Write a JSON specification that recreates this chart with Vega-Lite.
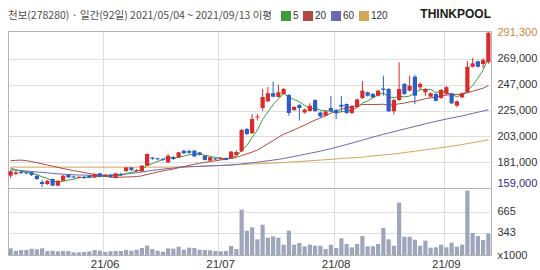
{
"$schema":"https://vega.github.io/schema/vega-lite/v6.json",
"background":"#ffffff",
"padding":{"left":7,"top":7,"right":0,"bottom":0},
"data":{"values":[
{"d":"2021-05-04","o":169500,"h":174400,"l":167500,"c":173200,"v":102,"m5":176000,"m20":182300,"m60":174500,"m120":176800},
{"d":"2021-05-06","o":170900,"h":173500,"l":170100,"c":172200,"v":66,"m5":174500,"m20":182600,"m60":174200,"m120":176800},
{"d":"2021-05-07","o":172900,"h":173500,"l":170900,"c":171800,"v":77,"m5":173500,"m20":182800,"m60":173900,"m120":176800},
{"d":"2021-05-10","o":172500,"h":173300,"l":170500,"c":171500,"v":77,"m5":172500,"m20":182300,"m60":173500,"m120":176800},
{"d":"2021-05-11","o":172400,"h":173100,"l":169200,"c":170100,"v":97,"m5":171800,"m20":181500,"m60":173100,"m120":176800},
{"d":"2021-05-12","o":169500,"h":170100,"l":165800,"c":166700,"v":87,"m5":170500,"m20":180600,"m60":172700,"m120":176800},
{"d":"2021-05-13","o":164100,"h":165800,"l":159900,"c":162400,"v":102,"m5":168500,"m20":179600,"m60":172300,"m120":176800},
{"d":"2021-05-14","o":162400,"h":165800,"l":161600,"c":165200,"v":61,"m5":167200,"m20":178600,"m60":171900,"m120":176800},
{"d":"2021-05-17","o":166700,"h":167100,"l":160700,"c":161000,"v":66,"m5":165100,"m20":177600,"m60":171500,"m120":176800},
{"d":"2021-05-18","o":161000,"h":165800,"l":160700,"c":165200,"v":56,"m5":164100,"m20":176600,"m60":171100,"m120":176800},
{"d":"2021-05-20","o":165200,"h":170100,"l":165000,"c":169500,"v":61,"m5":164700,"m20":175600,"m60":170800,"m120":176800},
{"d":"2021-05-21","o":170300,"h":170900,"l":167500,"c":168100,"v":61,"m5":165800,"m20":174700,"m60":170500,"m120":176800},
{"d":"2021-05-24","o":168800,"h":169700,"l":167100,"c":168000,"v":41,"m5":166400,"m20":173800,"m60":170300,"m120":176800},
{"d":"2021-05-25","o":167600,"h":169200,"l":167200,"c":168500,"v":41,"m5":167900,"m20":173000,"m60":170100,"m120":176800},
{"d":"2021-05-26","o":168400,"h":169200,"l":166700,"c":167500,"v":46,"m5":168300,"m20":172200,"m60":170000,"m120":176800},
{"d":"2021-05-27","o":169700,"h":170100,"l":167500,"c":168000,"v":56,"m5":168000,"m20":171400,"m60":169900,"m120":176800},
{"d":"2021-05-28","o":168100,"h":171400,"l":167500,"c":170900,"v":77,"m5":168600,"m20":170600,"m60":169900,"m120":176800},
{"d":"2021-05-31","o":171500,"h":171800,"l":168400,"c":168600,"v":66,"m5":168700,"m20":169900,"m60":169900,"m120":176800},
{"d":"2021-06-01","o":168800,"h":170900,"l":168400,"c":170100,"v":46,"m5":169000,"m20":169100,"m60":170000,"m120":176800},
{"d":"2021-06-02","o":170100,"h":170900,"l":167500,"c":168400,"v":56,"m5":169200,"m20":168300,"m60":170100,"m120":176800},
{"d":"2021-06-03","o":167500,"h":171800,"l":167100,"c":171500,"v":61,"m5":169900,"m20":168300,"m60":170300,"m120":176800},
{"d":"2021-06-04","o":171000,"h":171800,"l":169200,"c":170100,"v":61,"m5":169700,"m20":168200,"m60":170600,"m120":176800},
{"d":"2021-06-07","o":173500,"h":176900,"l":172700,"c":176500,"v":77,"m5":171300,"m20":168400,"m60":171000,"m120":176800},
{"d":"2021-06-08","o":176500,"h":176900,"l":173500,"c":174400,"v":66,"m5":172200,"m20":168500,"m60":171500,"m120":176800},
{"d":"2021-06-09","o":173400,"h":175200,"l":172700,"c":174400,"v":82,"m5":173400,"m20":168800,"m60":172000,"m120":176800},
{"d":"2021-06-10","o":173200,"h":178600,"l":172700,"c":178000,"v":107,"m5":174700,"m20":169300,"m60":172600,"m120":176800},
{"d":"2021-06-11","o":178000,"h":188400,"l":177800,"c":188000,"v":143,"m5":178300,"m20":170600,"m60":173300,"m120":176800},
{"d":"2021-06-14","o":185000,"h":185500,"l":183000,"c":184000,"v":92,"m5":179800,"m20":171500,"m60":174000,"m120":176800},
{"d":"2021-06-15","o":184300,"h":184800,"l":182500,"c":183500,"v":66,"m5":181600,"m20":172700,"m60":174600,"m120":176800},
{"d":"2021-06-16","o":183900,"h":184300,"l":182000,"c":183000,"v":51,"m5":183300,"m20":173600,"m60":175100,"m120":176800},
{"d":"2021-06-17","o":180900,"h":188000,"l":180300,"c":186500,"v":102,"m5":185000,"m20":174400,"m60":175600,"m120":176800},
{"d":"2021-06-18","o":185400,"h":186300,"l":182900,"c":183700,"v":97,"m5":184100,"m20":175200,"m60":176000,"m120":176900},
{"d":"2021-06-21","o":185200,"h":189700,"l":184600,"c":189400,"v":128,"m5":185200,"m20":176300,"m60":176500,"m120":177000},
{"d":"2021-06-22","o":190800,"h":191400,"l":188000,"c":188600,"v":82,"m5":186200,"m20":177300,"m60":176800,"m120":177100},
{"d":"2021-06-23","o":190500,"h":191800,"l":188200,"c":189000,"v":112,"m5":187400,"m20":178300,"m60":177100,"m120":177200},
{"d":"2021-06-24","o":190800,"h":191400,"l":185400,"c":186000,"v":107,"m5":187300,"m20":179200,"m60":177300,"m120":177300},
{"d":"2021-06-25","o":189400,"h":189700,"l":186700,"c":187400,"v":82,"m5":188100,"m20":180100,"m60":177500,"m120":177500},
{"d":"2021-06-28","o":186500,"h":187100,"l":182500,"c":182900,"v":77,"m5":186800,"m20":180800,"m60":177700,"m120":177700},
{"d":"2021-06-29","o":182300,"h":185400,"l":182000,"c":185200,"v":72,"m5":186100,"m20":181500,"m60":177900,"m120":177900},
{"d":"2021-06-30","o":184200,"h":184600,"l":182900,"c":183300,"v":61,"m5":185000,"m20":182300,"m60":178000,"m120":178100},
{"d":"2021-07-01","o":183700,"h":185000,"l":182900,"c":184600,"v":56,"m5":184700,"m20":182900,"m60":178200,"m120":178300},
{"d":"2021-07-02","o":184600,"h":185000,"l":182500,"c":182900,"v":61,"m5":183800,"m20":183600,"m60":178400,"m120":178500},
{"d":"2021-07-05","o":184300,"h":190600,"l":183700,"c":190000,"v":138,"m5":185200,"m20":184200,"m60":178700,"m120":178700},
{"d":"2021-07-06","o":187100,"h":191000,"l":186300,"c":189700,"v":92,"m5":186100,"m20":185000,"m60":179000,"m120":178900},
{"d":"2021-07-07","o":190300,"h":209300,"l":189700,"c":208500,"v":695,"m5":191100,"m20":186700,"m60":179500,"m120":179100},
{"d":"2021-07-08","o":209300,"h":210200,"l":204200,"c":205000,"v":373,"m5":195200,"m20":188100,"m60":180000,"m120":179300},
{"d":"2021-07-09","o":205700,"h":222100,"l":205000,"c":217800,"v":424,"m5":202200,"m20":189600,"m60":180500,"m120":179500},
{"d":"2021-07-12","o":219200,"h":222100,"l":216600,"c":220000,"v":240,"m5":208200,"m20":191400,"m60":181000,"m120":179700},
{"d":"2021-07-13","o":227200,"h":243400,"l":224700,"c":236600,"v":465,"m5":217600,"m20":194000,"m60":181600,"m120":179900},
{"d":"2021-07-14","o":232900,"h":245100,"l":232300,"c":239800,"v":266,"m5":223800,"m20":196800,"m60":182200,"m120":180100},
{"d":"2021-07-15","o":239800,"h":249800,"l":236200,"c":236900,"v":286,"m5":230200,"m20":199400,"m60":182800,"m120":180300},
{"d":"2021-07-16","o":236600,"h":247100,"l":236200,"c":240600,"v":266,"m5":234800,"m20":202200,"m60":183400,"m120":180500},
{"d":"2021-07-19","o":239200,"h":244300,"l":238700,"c":243400,"v":158,"m5":239500,"m20":204900,"m60":184200,"m120":180800},
{"d":"2021-07-20","o":238300,"h":239200,"l":220700,"c":223000,"v":373,"m5":236700,"m20":206600,"m60":185000,"m120":181000},
{"d":"2021-07-21","o":225500,"h":228900,"l":224700,"c":228100,"v":158,"m5":234400,"m20":208600,"m60":185900,"m120":181300},
{"d":"2021-07-22","o":229800,"h":230600,"l":216600,"c":227200,"v":184,"m5":232500,"m20":210600,"m60":186800,"m120":181600},
{"d":"2021-07-23","o":223400,"h":226800,"l":222500,"c":225900,"v":133,"m5":229500,"m20":212600,"m60":187700,"m120":181900},
{"d":"2021-07-26","o":224700,"h":231200,"l":224200,"c":229200,"v":158,"m5":226700,"m20":214900,"m60":188600,"m120":182200},
{"d":"2021-07-27","o":234000,"h":234500,"l":223800,"c":224700,"v":143,"m5":227000,"m20":216900,"m60":189500,"m120":182500},
{"d":"2021-07-28","o":223400,"h":224200,"l":219100,"c":220000,"v":143,"m5":225400,"m20":218700,"m60":190400,"m120":182800},
{"d":"2021-07-29","o":220800,"h":225100,"l":220000,"c":224200,"v":92,"m5":224800,"m20":220700,"m60":191500,"m120":183100},
{"d":"2021-07-30","o":227200,"h":237500,"l":223800,"c":224700,"v":158,"m5":224600,"m20":222800,"m60":192500,"m120":183400},
{"d":"2021-08-02","o":225500,"h":226400,"l":217800,"c":222700,"v":107,"m5":223300,"m20":224400,"m60":193700,"m120":183800},
{"d":"2021-08-03","o":230000,"h":237500,"l":223800,"c":228300,"v":256,"m5":224000,"m20":226300,"m60":194900,"m120":184100},
{"d":"2021-08-04","o":230600,"h":231100,"l":222100,"c":223000,"v":169,"m5":224600,"m20":227100,"m60":196100,"m120":184400},
{"d":"2021-08-05","o":223000,"h":229800,"l":222100,"c":228900,"v":118,"m5":225500,"m20":228300,"m60":197300,"m120":184700},
{"d":"2021-08-06","o":228100,"h":235300,"l":227200,"c":234500,"v":169,"m5":227500,"m20":229100,"m60":198600,"m120":185000},
{"d":"2021-08-09","o":235800,"h":250200,"l":234900,"c":242000,"v":291,"m5":231300,"m20":230200,"m60":199800,"m120":185300},
{"d":"2021-08-10","o":240600,"h":241300,"l":237000,"c":237700,"v":133,"m5":233200,"m20":230200,"m60":201100,"m120":185800},
{"d":"2021-08-11","o":239200,"h":240000,"l":235700,"c":236300,"v":133,"m5":235900,"m20":230100,"m60":202400,"m120":186300},
{"d":"2021-08-12","o":237700,"h":242600,"l":237000,"c":242000,"v":169,"m5":238500,"m20":230300,"m60":203600,"m120":186800},
{"d":"2021-08-13","o":243800,"h":254800,"l":237700,"c":242600,"v":414,"m5":240100,"m20":230400,"m60":204800,"m120":187200},
{"d":"2021-08-17","o":243400,"h":244300,"l":223800,"c":224400,"v":240,"m5":236600,"m20":229500,"m60":205900,"m120":187600},
{"d":"2021-08-18","o":224400,"h":234900,"l":221500,"c":234000,"v":143,"m5":235900,"m20":230000,"m60":207000,"m120":188000},
{"d":"2021-08-19","o":234000,"h":266200,"l":233200,"c":243400,"v":802,"m5":237300,"m20":230800,"m60":208200,"m120":188600},
{"d":"2021-08-20","o":247700,"h":248500,"l":238300,"c":239200,"v":281,"m5":236700,"m20":231400,"m60":209300,"m120":189200},
{"d":"2021-08-23","o":242000,"h":254800,"l":241300,"c":246200,"v":281,"m5":237400,"m20":232400,"m60":210400,"m120":189800},
{"d":"2021-08-24","o":253900,"h":255400,"l":230600,"c":237700,"v":235,"m5":240100,"m20":232800,"m60":211500,"m120":190400},
{"d":"2021-08-25","o":244900,"h":249400,"l":242600,"c":247700,"v":143,"m5":242800,"m20":234000,"m60":212600,"m120":191000},
{"d":"2021-08-26","o":240600,"h":244300,"l":237500,"c":243400,"v":220,"m5":242800,"m20":235100,"m60":213700,"m120":191600},
{"d":"2021-08-27","o":236900,"h":240400,"l":236200,"c":239800,"v":112,"m5":243000,"m20":235900,"m60":214800,"m120":192200},
{"d":"2021-08-30","o":239200,"h":240000,"l":232800,"c":233400,"v":118,"m5":240400,"m20":236400,"m60":215800,"m120":192800},
{"d":"2021-08-31","o":235800,"h":243400,"l":234900,"c":242600,"v":158,"m5":241400,"m20":237400,"m60":216800,"m120":193400},
{"d":"2021-09-01","o":239200,"h":246000,"l":238300,"c":244900,"v":118,"m5":240800,"m20":238200,"m60":217800,"m120":194000},
{"d":"2021-09-02","o":239800,"h":240000,"l":230600,"c":231200,"v":189,"m5":238400,"m20":238600,"m60":218700,"m120":194600},
{"d":"2021-09-03","o":229200,"h":233600,"l":227800,"c":232900,"v":128,"m5":237000,"m20":238800,"m60":219600,"m120":195300},
{"d":"2021-09-06","o":236300,"h":240400,"l":235700,"c":239800,"v":158,"m5":238300,"m20":239100,"m60":220500,"m120":196100},
{"d":"2021-09-07","o":240600,"h":267300,"l":240000,"c":262400,"v":986,"m5":242200,"m20":240100,"m60":221500,"m120":196900},
{"d":"2021-09-08","o":262400,"h":269800,"l":261800,"c":265300,"v":337,"m5":246300,"m20":241500,"m60":222600,"m120":197700},
{"d":"2021-09-09","o":267000,"h":267700,"l":261800,"c":262400,"v":291,"m5":252600,"m20":242800,"m60":223600,"m120":198500},
{"d":"2021-09-10","o":264700,"h":269800,"l":261300,"c":268100,"v":230,"m5":259600,"m20":244100,"m60":224700,"m120":199300},
{"d":"2021-09-13","o":266200,"h":292000,"l":265000,"c":291300,"v":332,"m5":269900,"m20":246500,"m60":225800,"m120":200100}
]},
"spacing":0,
"bounds":"flush",
"vconcat":[
{
"width":483,"height":157,
"title":{"text":"THINKPOOL","anchor":"end","frame":"group","orient":"top","offset":6,"font":"Liberation Sans","fontSize":12,"fontWeight":"bold","color":"#1a1a1a"},
"encoding":{"x":{"field":"d","type":"ordinal","sort":null,"scale":{"paddingInner":0.2,"paddingOuter":0.1},
"axis":{"values":["2021-06-01","2021-07-01","2021-08-02","2021-09-01"],"bandPosition":0,"grid":true,"labels":false,"ticks":false,"domain":false,"title":null}}},
"layer":[
{"mark":{"type":"point","filled":true,"size":0,"opacity":1,"shape":"square"},"encoding":{"y":{"field":"m5","type":"quantitative","scale":{"domain":[159000,292874],"nice":false,"zero":false},
"axis":{"orient":"right","values":[159000,181000,203000,225000,247000,269000,291300],"tickCount":20,"format":",d","labelFlush":true,"labelOverlap":false,"labelPadding":6,"grid":true,"title":null,
"gridOpacity":{"condition":{"test":"datum.value==291300","value":0},"value":1},
"labelColor":{"condition":[{"test":"datum.value==291300","value":"#d0863a"},{"test":"datum.value==159000","value":"#2c2c8c"}],"value":"#333333"}}},
"color":{"datum":"5","type":"nominal","scale":{"domain":["5","20","60","120"],"range":["#3c9c3c","#b04a40","#6a68b0","#d6a452"]},
"legend":{"orient":"none","legendX":0,"legendY":-20,"direction":"horizontal","title":"천보(278280) · 일간(92일) 2021/05/04 ~ 2021/09/13  이평","titleLimit":400,"titleOrient":"left","titleFont":"Noto Sans CJK KR","titleFontSize":10.5,"titleFontWeight":"normal","titleColor":"#4d4d4d","titlePadding":6,"symbolType":"square","symbolSize":100,"symbolStrokeWidth":0,"symbolOpacity":1,"labelFontSize":10,"labelFont":"Liberation Sans","labelColor":"#333","labelOffset":2,"columnPadding":4,"padding":0}}}},
{"mark":{"type":"line","strokeWidth":1},"encoding":{"y":{"field":"m120","type":"quantitative","scale":{"domain":[159000,292874],"nice":false,"zero":false}},"color":{"datum":"120","type":"nominal"}}},
{"mark":{"type":"line","strokeWidth":1},"encoding":{"y":{"field":"m60","type":"quantitative","scale":{"domain":[159000,292874],"nice":false,"zero":false}},"color":{"datum":"60","type":"nominal"}}},
{"mark":{"type":"line","strokeWidth":1},"encoding":{"y":{"field":"m20","type":"quantitative","scale":{"domain":[159000,292874],"nice":false,"zero":false}},"color":{"datum":"20","type":"nominal"}}},
{"mark":{"type":"line","strokeWidth":1},"encoding":{"y":{"field":"m5","type":"quantitative","scale":{"domain":[159000,292874],"nice":false,"zero":false}},"color":{"datum":"5","type":"nominal"}}},
{"mark":{"type":"rule","strokeWidth":1},"encoding":{"y":{"field":"l","type":"quantitative","scale":{"domain":[159000,292874],"nice":false,"zero":false}},"y2":{"field":"h"},
"stroke":{"condition":{"test":"datum.c >= datum.o","value":"#d92b2b"},"value":"#2d5ec8"}}},
{"mark":{"type":"bar"},"encoding":{"y":{"field":"o","type":"quantitative","scale":{"domain":[159000,292874],"nice":false,"zero":false}},"y2":{"field":"c"},
"fill":{"condition":{"test":"datum.c >= datum.o","value":"#d92b2b"},"value":"#2d5ec8"}}}
]
},
{
"width":483,"height":67,
"mark":{"type":"bar","color":"#9ea6bc"},
"encoding":{
"x":{"field":"d","type":"ordinal","sort":null,"scale":{"paddingInner":0.2,"paddingOuter":0.1},
"axis":{"values":["2021-06-01","2021-07-01","2021-08-02","2021-09-01"],"bandPosition":0,"grid":true,"labelAngle":0,"labelPadding":3,"labelFontSize":11.5,"ticks":false,"domain":false,"title":null,
"labelExpr":"substring(datum.value,2,4)+'/'+substring(datum.value,5,7)"}},
"y":{"field":"v","type":"quantitative","scale":{"domain":[0,1027],"nice":false},
"axis":{"orient":"right","values":[0,343,665],"tickCount":20,"labelOverlap":false,"labelExpr":"datum.value==0?'x1000':datum.label","grid":true,"labelPadding":6,"title":null,
"gridOpacity":{"condition":{"test":"datum.value==0","value":0},"value":1}}}
}
}
],
"config":{
"view":{"stroke":"#b4b4b4","strokeWidth":1},
"axis":{"labelFont":"Liberation Sans","labelFontSize":11,"labelColor":"#333333","gridColor":"#dedede","gridWidth":1,"domain":false,"ticks":false,"labelOverlap":false},
"title":{"fontWeight":"normal"}
}
}
